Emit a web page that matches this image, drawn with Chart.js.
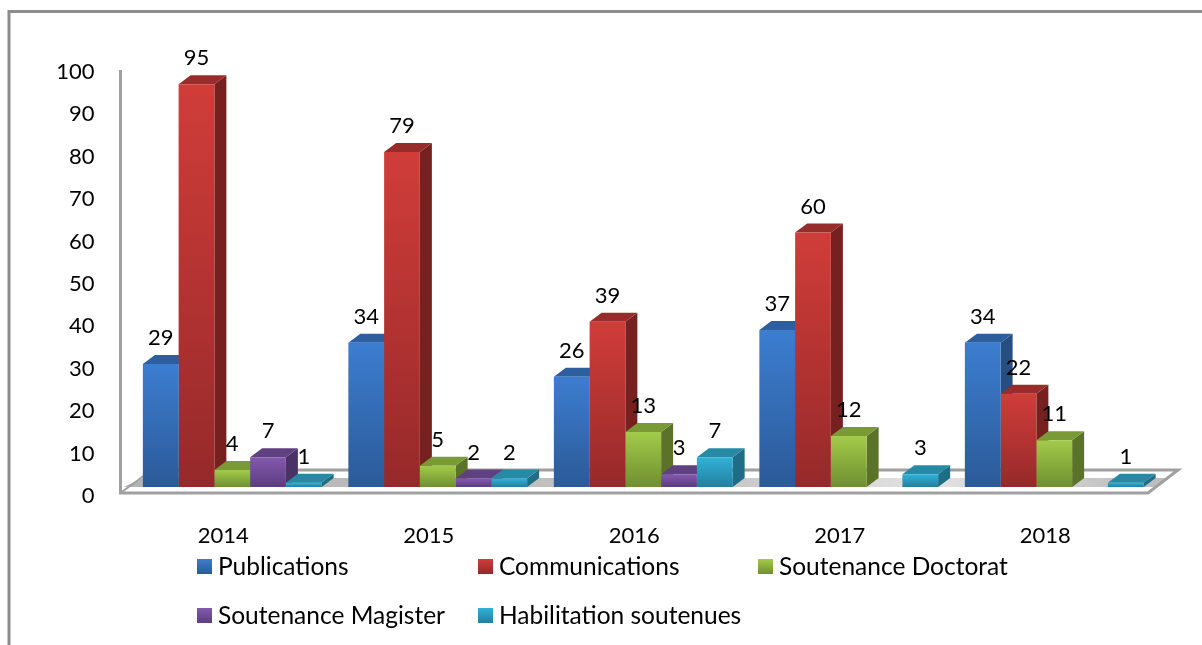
<!DOCTYPE html>
<html lang="en">
<head>
    <meta charset="UTF-8">
    <title>Publications 2014-2018</title>
    <style>
        html, body { margin: 0; padding: 0; background: #fff; overflow: hidden; }
        #wrap { position: relative; width: 1202px; height: 645px; font-family: Lato, sans-serif; color: #000; }
        #chart { position: absolute; left: 0; top: 0; }
        .legend-item { position: absolute; font-size: 24.5px; line-height: 26px; white-space: nowrap; }
        .legend-item i { position: absolute; left: -21px; top: 6px; width: 15px; height: 15px; }
    </style>
    <script src="https://cdn.jsdelivr.net/npm/chart.js"></script>
</head>
<body>
    <div id="wrap">
        <canvas id="chart" width="1202" height="645"></canvas>
    </div>

    <script>
        const years = ['2014', '2015', '2016', '2017', '2018'];
        const publications = [29, 34, 26, 37, 34];
        const communications = [95, 79, 39, 60, 22];
        const doctorat = [4, 5, 13, 12, 11];
        const magister = [7, 2, 3, null, null];
        const habilitation = [1, 2, 7, 3, 1];

        const seriesNames = ['Publications', 'Communications', 'Soutenance Doctorat', 'Soutenance Magister', 'Habilitation soutenues'];
        const seriesValues = [publications, communications, doctorat, magister, habilitation];

        // top of gradient, bottom of gradient, top face, side face
        const palette = [
            ['#3c7dd0', '#2b5a98', '#2d5f9e', '#264e80'],
            ['#d03d39', '#96292a', '#972d2b', '#76211f'],
            ['#a3cb4a', '#6f8f30', '#7a9a36', '#5b7229'],
            ['#8359ad', '#5c3d80', '#5f4181', '#4a3266'],
            ['#31b2d6', '#22809f', '#268aa6', '#1e6c85']
        ];
        const legendSpots = [[218, 553], [499, 553], [779, 553], [218, 602], [499, 602]];

        const DEPTH_X = 12, DEPTH_Y = 9;
        const FONT = '22px Lato, sans-serif';

        function polygon(ctx, pts, fill) {
            ctx.beginPath();
            pts.forEach((p, i) => i ? ctx.lineTo(p[0], p[1]) : ctx.moveTo(p[0], p[1]));
            ctx.closePath();
            ctx.fillStyle = fill;
            ctx.fill();
        }

        function line(ctx, pts, color, width) {
            ctx.beginPath();
            pts.forEach((p, i) => i ? ctx.lineTo(p[0], p[1]) : ctx.moveTo(p[0], p[1]));
            ctx.strokeStyle = color;
            ctx.lineWidth = width;
            ctx.stroke();
        }

        // frame, axis wall and floor, plus the top and side faces of each bar
        const box3d = {
            id: 'box3d',
            beforeDatasetsDraw(chart) {
                const ctx = chart.ctx;
                const { x, y } = chart.scales;
                const base = y.getPixelForValue(0);
                const left = x.left, right = x.right;

                ctx.save();
                line(ctx, [[9, 645], [9, 11.5], [1202, 11.5]], '#8c8c8c', 3);

                const floor = ctx.createLinearGradient(left, 0, right, 0);
                floor.addColorStop(0, '#b4b4b4');
                floor.addColorStop(0.55, '#c4c4c4');
                floor.addColorStop(0.78, '#e2e2e2');
                floor.addColorStop(1, '#bdbdbd');
                polygon(ctx, [[left - 6, base], [left + 14, base - 9], [right + 10, base - 9], [right - 3, base]], floor);

                line(ctx, [[left - 9, y.top + 7], [left - 9, base + 6], [right - 9, base + 6], [right + 21, base - 17], [left + 14, base - 17]], '#a0a0a0', 3);
                line(ctx, [[left - 9, base + 6], [left + 14, base - 11]], '#a0a0a0', 2);

                years.forEach((yr, i) => {
                    chart.data.datasets.forEach((ds, d) => {
                        const bar = chart.getDatasetMeta(d).data[i];
                        if (ds.data[i] == null) return;
                        const l = bar.x - bar.width / 2, r = bar.x + bar.width / 2, t = bar.y;
                        polygon(ctx, [[r, t], [r + DEPTH_X, t - DEPTH_Y], [r + DEPTH_X, base - DEPTH_Y], [r, base]], palette[d][3]);
                        polygon(ctx, [[l, t], [l + DEPTH_X, t - DEPTH_Y], [r + DEPTH_X, t - DEPTH_Y], [r, t]], palette[d][2]);
                    });
                });
                ctx.restore();
            },
            afterDatasetsDraw(chart) {
                const ctx = chart.ctx;
                ctx.save();
                ctx.font = FONT;
                ctx.fillStyle = '#000';
                ctx.textAlign = 'center';
                ctx.textBaseline = 'middle';
                chart.data.datasets.forEach((ds, d) => {
                    chart.getDatasetMeta(d).data.forEach((bar, i) => {
                        if (ds.data[i] == null) return;
                        ctx.fillText(ds.data[i], bar.x, bar.y - 26);
                    });
                });
                ctx.restore();
            }
        };

        new Chart(document.getElementById('chart'), {
            type: 'bar',
            plugins: [box3d],
            data: {
                labels: years,
                datasets: seriesNames.map((name, d) => ({
                    label: name,
                    data: seriesValues[d],
                    backgroundColor: (c) => {
                        if (!c.chart.chartArea || c.raw == null) return palette[d][0];
                        const yScale = c.chart.scales.y;
                        const g = c.chart.ctx.createLinearGradient(0, yScale.getPixelForValue(c.raw), 0, yScale.getPixelForValue(0));
                        g.addColorStop(0, palette[d][0]);
                        g.addColorStop(1, palette[d][1]);
                        return g;
                    },
                    barPercentage: 1,
                    categoryPercentage: 0.87
                }))
            },
            options: {
                responsive: false,
                animation: false,
                layout: { padding: { top: 63, right: 45 } },
                plugins: { legend: { display: false }, tooltip: { enabled: false } },
                scales: {
                    x: {
                        grid: { display: false },
                        border: { display: false },
                        afterFit: (s) => { s.height = 158; },
                        ticks: { color: '#000', font: { family: 'Lato', size: 22 }, padding: 28, labelOffset: -9, maxRotation: 0 }
                    },
                    y: {
                        min: 0,
                        max: 100,
                        grid: { display: false },
                        border: { display: false },
                        afterFit: (s) => { s.width = 129.5; },
                        ticks: { color: '#000', font: { family: 'Lato', size: 22 }, stepSize: 10, padding: 27, labelOffset: 9 }
                    }
                }
            }
        });

        const wrap = document.getElementById('wrap');
        seriesNames.forEach((name, d) => {
            const item = document.createElement('div');
            item.className = 'legend-item';
            item.style.left = legendSpots[d][0] + 'px';
            item.style.top = legendSpots[d][1] + 'px';
            item.textContent = name;
            const box = document.createElement('i');
            box.style.background = 'linear-gradient(' + palette[d][0] + ',' + palette[d][1] + ')';
            item.appendChild(box);
            wrap.appendChild(item);
        });
    </script>
</body>
</html>
